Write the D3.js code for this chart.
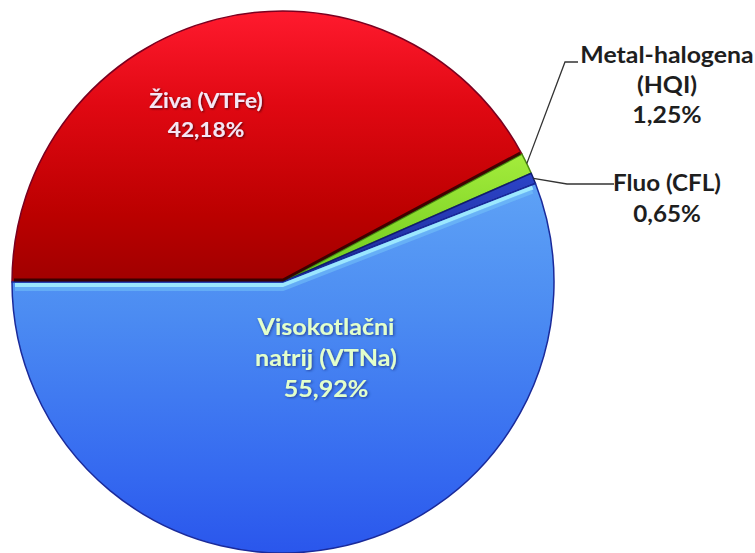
<!DOCTYPE html>
<html>
<head>
<meta charset="utf-8">
<script src="https://cdn.jsdelivr.net/npm/d3@7"></script>
<style>
  html, body { margin: 0; padding: 0; background: #ffffff; }
  svg { display: block; }
</style>
</head>
<body>
<script>
// ---- data ----
const categories = ["Živa (VTFe)", "Metal-halogena (HQI)", "Fluo (CFL)", "Visokotlačni natrij (VTNa)"];
const values = [42.18, 1.25, 0.65, 55.92];
const valueLabels = ["42,18%", "1,25%", "0,65%", "55,92%"];
const labelLines = [["Živa (VTFe)", "42,18%"], ["Metal-halogena", "(HQI)", "1,25%"], ["Fluo (CFL)", "0,65%"], ["Visokotlačni", "natrij (VTNa)", "55,92%"]];

const W = 755, H = 553;
const cx = 283, cy = 282, R = 271;

const svg = d3.select("body").append("svg").attr("width", W).attr("height", H);
const defs = svg.append("defs");

function vgrad(id, stops) {
  const g = defs.append("linearGradient").attr("id", id)
    .attr("x1", 0).attr("y1", 0).attr("x2", 0).attr("y2", 1);
  stops.forEach(s => g.append("stop").attr("offset", s[0]).attr("stop-color", s[1]));
}
vgrad("gRed", [[0, "#ff1a2e"], [0.35, "#e00812"], [0.75, "#bb0000"], [1, "#a00000"]]);
vgrad("gGreen", [[0, "#a4ec3c"], [1, "#6cc81c"]]);
vgrad("gDark", [[0, "#2c44c8"], [1, "#1c2a96"]]);
vgrad("gBlue", [[0, "#5ea2f6"], [0.35, "#4c8cf2"], [0.8, "#3468f0"], [1, "#2a56ec"]]);

const fills = ["url(#gRed)", "url(#gGreen)", "url(#gDark)", "url(#gBlue)"];
const strokes = ["#7a0020", "#4a8a10", "#101c70", "#1a2a9a"];

function shadow(id, color, dev) {
  const f = defs.append("filter").attr("id", id).attr("x", "-20%").attr("y", "-40%").attr("width", "140%").attr("height", "180%");
  f.append("feDropShadow").attr("dx", 1).attr("dy", 1).attr("stdDeviation", dev).attr("flood-color", color).attr("flood-opacity", 0.9);
}
shadow("shRed", "#500010", 1);
shadow("shBlue", "#1a3a90", 1.2);

const pie = d3.pie().sort(null).value(d => d)
  .startAngle(-Math.PI / 2).endAngle(3 * Math.PI / 2);
const arcs = pie(values);
const arc = d3.arc().innerRadius(0).outerRadius(R);

const g = svg.append("g").attr("transform", `translate(${cx},${cy})`);

g.selectAll("path.slice").data(arcs).enter().append("path")
  .attr("class", "slice")
  .attr("d", arc)
  .attr("fill", (d, i) => fills[i])
  .attr("stroke", (d, i) => strokes[i])
  .attr("stroke-width", 1.5)
  .attr("stroke-linejoin", "round");

const pt = (a, r) => [r * Math.sin(a), -r * Math.cos(a)];
const redA = arcs[0];
const darkLine = d3.line()([pt(redA.startAngle, R - 2), [0, 0], pt(redA.endAngle, R - 2)]);
g.append("path").attr("d", darkLine).attr("fill", "none")
  .attr("stroke", "#1a0000").attr("stroke-width", 3).attr("opacity", 0.75)
  .attr("transform", "translate(0,-2)");
const blueA = arcs[3];
const hiLine = d3.line()([pt(blueA.startAngle, R - 3), [0, 0], pt(blueA.endAngle, R - 3)]);
g.append("path").attr("d", hiLine).attr("fill", "none")
  .attr("stroke", "#a8f4ff").attr("stroke-width", 4).attr("opacity", 0.85)
  .attr("transform", "translate(0,3)");
g.append("path").attr("d", hiLine).attr("fill", "none")
  .attr("stroke", "#78c8fa").attr("stroke-width", 4).attr("opacity", 0.5)
  .attr("transform", "translate(0,7)");

const font = "Lato, 'Open Sans', sans-serif";

function block(lines, x, y0, dy, size, sx, fill, filter) {
  const t = svg.append("text").attr("text-anchor", "middle")
    .attr("transform", `translate(${x},0) scale(${sx},1)`)
    .attr("font-family", font).attr("font-weight", "bold").attr("font-size", size)
    .attr("fill", fill);
  if (filter) t.attr("filter", filter);
  lines.forEach((l, i) => t.append("tspan").attr("x", 0).attr("y", y0 + i * dy).text(l));
}

// inside labels
block(labelLines[0], 206, 108, 29, 21, 1.08, "#f6e6f4", "url(#shRed)");
block(labelLines[3], 326, 335, 31, 22, 1.14, "#e2ffcc", "url(#shBlue)");

// outside labels
block(labelLines[1], 667, 63, 30, 22, 1.13, "#1e1e1e", null);
block(labelLines[2], 667, 191, 31, 22, 1.1, "#1e1e1e", null);

// leader lines
const lead = svg.append("g").attr("fill", "none").attr("stroke", "#333").attr("stroke-width", 1.3);
const gA = arcs[1], fA = arcs[2];
const gp = pt((gA.startAngle + gA.endAngle) / 2, R);
const fp = pt((fA.startAngle + fA.endAngle) / 2, R);
lead.append("path").attr("d", d3.line()([[cx + gp[0], cy + gp[1]], [565, 62], [578, 62]]));
lead.append("path").attr("d", d3.line()([[cx + fp[0], cy + fp[1]], [567, 184], [614, 184]]));
</script>
</body>
</html>
